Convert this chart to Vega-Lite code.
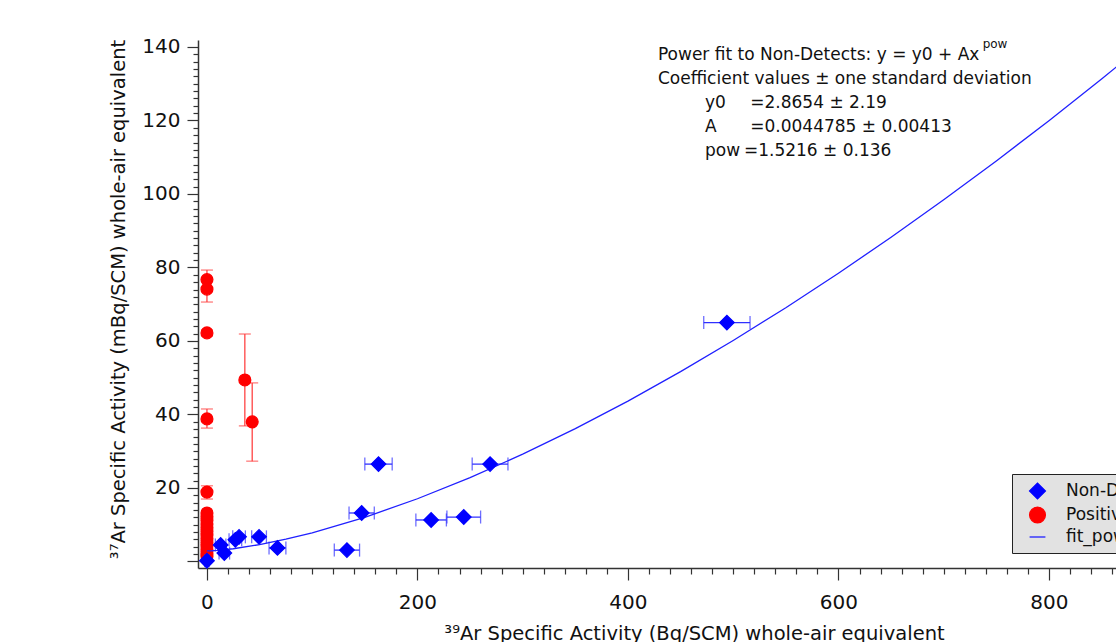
{
  "$schema": "https://vega.github.io/schema/vega-lite/v6.json",
  "width": 918,
  "height": 528,
  "autosize": {"type": "none"},
  "padding": {"left": 198, "top": 40, "right": 0, "bottom": 74},
  "background": "white",
  "config": {
    "font": "DejaVu Sans",
    "view": {"stroke": null},
    "axis": {
      "grid": false,
      "domainColor": "#333333",
      "domainWidth": 1.5,
      "tickColor": "#333333",
      "tickWidth": 1.2,
      "labelColor": "#111111",
      "labelFont": "DejaVu Sans",
      "labelFontSize": 20,
      "labelOverlap": false,
      "labelFlush": false,
      "titleFont": "DejaVu Sans",
      "titleFontSize": 19.5,
      "titleFontWeight": "normal",
      "titleColor": "#111111"
    },
    "legend": {
      "orient": "none",
      "legendX": 814,
      "legendY": 434,
      "title": null,
      "fillColor": "#e2e2e2",
      "strokeColor": "#222222",
      "padding": 8,
      "labelFont": "DejaVu Sans",
      "labelFontSize": 17,
      "labelColor": "#111111",
      "labelOffset": 19.5,
      "symbolOffset": 8.5,
      "rowPadding": 2,
      "symbolSize": 250,
      "symbolStrokeWidth": 1.3,
      "symbolOpacity": 1,
      "labelLimit": 400
    }
  },
  "datasets": {
    "nondetects": [
      {"x": 0, "y": 0.2, "xlo": -2, "xhi": 2, "series": "Non-Detects"},
      {"x": 13, "y": 4.5, "xlo": 8, "xhi": 18, "series": "Non-Detects"},
      {"x": 16.5, "y": 2.3, "xlo": 11.5, "xhi": 21.5, "series": "Non-Detects"},
      {"x": 27, "y": 5.9, "xlo": 21, "xhi": 33, "series": "Non-Detects"},
      {"x": 30.5, "y": 6.7, "xlo": 24.5, "xhi": 36.5, "series": "Non-Detects"},
      {"x": 49.5, "y": 6.7, "xlo": 42.5, "xhi": 56.5, "series": "Non-Detects"},
      {"x": 67, "y": 3.7, "xlo": 59, "xhi": 75, "series": "Non-Detects"},
      {"x": 133, "y": 3.1, "xlo": 121, "xhi": 145, "series": "Non-Detects"},
      {"x": 147, "y": 13.2, "xlo": 135, "xhi": 159, "series": "Non-Detects"},
      {"x": 163, "y": 26.5, "xlo": 150, "xhi": 176, "series": "Non-Detects"},
      {"x": 213, "y": 11.3, "xlo": 198.5, "xhi": 227.5, "series": "Non-Detects"},
      {"x": 244, "y": 12.1, "xlo": 228, "xhi": 260, "series": "Non-Detects"},
      {"x": 269, "y": 26.5, "xlo": 252, "xhi": 286, "series": "Non-Detects"},
      {"x": 494, "y": 65, "xlo": 472, "xhi": 516, "series": "Non-Detects"}
    ],
    "positives": [
      {"x": 0, "y": 76.7, "ylo": 74.5, "yhi": 79.3, "series": "Positives"},
      {"x": 0, "y": 74.1, "ylo": 70.6, "yhi": 77.2, "series": "Positives"},
      {"x": 0, "y": 62.2, "ylo": 61.4, "yhi": 63.0, "series": "Positives"},
      {"x": 36, "y": 49.4, "ylo": 36.9, "yhi": 61.9, "series": "Positives"},
      {"x": 43, "y": 38.0, "ylo": 27.3, "yhi": 48.6, "series": "Positives"},
      {"x": 0, "y": 38.8, "ylo": 36.3, "yhi": 41.5, "series": "Positives"},
      {"x": 0, "y": 18.9, "ylo": 17.0, "yhi": 20.6, "series": "Positives"},
      {"x": 0, "y": 13.2, "ylo": 12.6, "yhi": 13.8, "series": "Positives"},
      {"x": 0, "y": 12.2, "ylo": 11.6, "yhi": 12.8, "series": "Positives"},
      {"x": 0, "y": 11.2, "ylo": 10.6, "yhi": 11.8, "series": "Positives"},
      {"x": 0, "y": 10.2, "ylo": 9.6, "yhi": 10.8, "series": "Positives"},
      {"x": 0, "y": 9.2, "ylo": 8.6, "yhi": 9.8, "series": "Positives"},
      {"x": 0, "y": 8.2, "ylo": 7.6, "yhi": 8.8, "series": "Positives"},
      {"x": 0, "y": 7.2, "ylo": 6.6, "yhi": 7.8, "series": "Positives"},
      {"x": 0, "y": 6.2, "ylo": 5.6, "yhi": 6.8, "series": "Positives"},
      {"x": 0, "y": 5.2, "ylo": 4.6, "yhi": 5.8, "series": "Positives"},
      {"x": 0, "y": 4.2, "ylo": 3.6, "yhi": 4.8, "series": "Positives"},
      {"x": 0, "y": 3.2, "ylo": 2.6, "yhi": 3.8, "series": "Positives"},
      {"x": 0, "y": 2.2, "ylo": 1.6, "yhi": 2.8, "series": "Positives"},
      {"x": 0, "y": 1.4, "ylo": 0.8, "yhi": 2.0, "series": "Positives"}
    ],
    "fit": [
      {"x": 0, "y": 2.87, "series": "fit_pow_NonDetects"},
      {"x": 5, "y": 2.92, "series": "fit_pow_NonDetects"},
      {"x": 10, "y": 3.01, "series": "fit_pow_NonDetects"},
      {"x": 25, "y": 3.47, "series": "fit_pow_NonDetects"},
      {"x": 50, "y": 4.59, "series": "fit_pow_NonDetects"},
      {"x": 75, "y": 6.06, "series": "fit_pow_NonDetects"},
      {"x": 100, "y": 7.81, "series": "fit_pow_NonDetects"},
      {"x": 150, "y": 12.03, "series": "fit_pow_NonDetects"},
      {"x": 200, "y": 17.07, "series": "fit_pow_NonDetects"},
      {"x": 250, "y": 22.82, "series": "fit_pow_NonDetects"},
      {"x": 300, "y": 29.2, "series": "fit_pow_NonDetects"},
      {"x": 350, "y": 36.16, "series": "fit_pow_NonDetects"},
      {"x": 400, "y": 43.65, "series": "fit_pow_NonDetects"},
      {"x": 450, "y": 51.65, "series": "fit_pow_NonDetects"},
      {"x": 500, "y": 60.15, "series": "fit_pow_NonDetects"},
      {"x": 550, "y": 69.06, "series": "fit_pow_NonDetects"},
      {"x": 600, "y": 78.44, "series": "fit_pow_NonDetects"},
      {"x": 650, "y": 88.22, "series": "fit_pow_NonDetects"},
      {"x": 700, "y": 98.44, "series": "fit_pow_NonDetects"},
      {"x": 750, "y": 108.97, "series": "fit_pow_NonDetects"},
      {"x": 800, "y": 119.95, "series": "fit_pow_NonDetects"},
      {"x": 850, "y": 131.3, "series": "fit_pow_NonDetects"},
      {"x": 900, "y": 142.9, "series": "fit_pow_NonDetects"}
    ],
    "note": [{"label": "fit"}]
  },
  "encoding": {
    "x": {
      "type": "quantitative",
      "scale": {"domain": [-8.5, 863.7], "nice": false, "zero": false},
      "axis": {
        "title": "³⁹Ar Specific Activity (Bq/SCM) whole-air equivalent",
        "values": [0,20,40,60,80,100,120,140,160,180,200,220,240,260,280,300,320,340,360,380,400,420,440,460,480,500,520,540,560,580,600,620,640,660,680,700,720,740,760,780,800,820,840,860],
        "labelExpr": "datum.value % 200 === 0 ? datum.label : ''",
        "tickSize": {"condition": {"test": "datum.value % 200 === 0", "value": 12}, "value": 6},
        "labelPadding": 12,
        "titleX": 496,
        "titleY": 71,
        "titleAnchor": "middle",
        "titleAlign": "center",
        "titleBaseline": "alphabetic"
      }
    },
    "y": {
      "type": "quantitative",
      "scale": {"domain": [-1.77, 141.9], "nice": false, "zero": false},
      "axis": {
        "title": "³⁷Ar Specific Activity (mBq/SCM) whole-air equivalent",
        "values": [0,2,4,6,8,10,12,14,16,18,20,22,24,26,28,30,32,34,36,38,40,42,44,46,48,50,52,54,56,58,60,62,64,66,68,70,72,74,76,78,80,82,84,86,88,90,92,94,96,98,100,102,104,106,108,110,112,114,116,118,120,122,124,126,128,130,132,134,136,138,140],
        "labelExpr": "datum.value % 20 === 0 && datum.value > 0 ? datum.label : ''",
        "tickSize": {"condition": {"test": "datum.value % 20 === 0", "value": 11}, "value": 5},
        "labelPadding": 7,
        "titleX": -74,
        "titleY": 259,
        "titleAngle": -90,
        "titleAlign": "center",
        "titleBaseline": "alphabetic"
      }
    }
  },
  "layer": [
    {
      "data": {"name": "positives"},
      "mark": {"type": "rule", "color": "#ff4444", "strokeWidth": 1.3},
      "encoding": {"x": {"field": "x"}, "y": {"field": "ylo"}, "y2": {"field": "yhi"}}
    },
    {
      "data": {"name": "positives"},
      "mark": {"type": "tick", "orient": "horizontal", "color": "#ff4444", "thickness": 1.3, "size": 12},
      "encoding": {"x": {"field": "x"}, "y": {"field": "ylo"}}
    },
    {
      "data": {"name": "positives"},
      "mark": {"type": "tick", "orient": "horizontal", "color": "#ff4444", "thickness": 1.3, "size": 12},
      "encoding": {"x": {"field": "x"}, "y": {"field": "yhi"}}
    },
    {
      "data": {"name": "positives"},
      "mark": {"type": "point", "filled": true, "opacity": 1, "strokeWidth": 1.3, "size": 140},
      "encoding": {
        "x": {"field": "x"},
        "y": {"field": "y"},
        "fill": {
          "field": "series",
          "type": "nominal",
          "scale": {"domain": ["Non-Detects", "Positives", "fit_pow_NonDetects"], "range": ["#0000ff", "#ff0000", "transparent"]}
        },
        "stroke": {
          "field": "series",
          "type": "nominal",
          "scale": {"domain": ["Non-Detects", "Positives", "fit_pow_NonDetects"], "range": ["#0000ff", "#ff0000", "#2020ff"]}
        },
        "shape": {
          "field": "series",
          "type": "nominal",
          "scale": {"domain": ["Non-Detects", "Positives", "fit_pow_NonDetects"], "range": ["diamond", "circle", "stroke"]}
        }
      }
    },
    {
      "data": {"name": "nondetects"},
      "mark": {"type": "rule", "color": "#3030ff", "strokeWidth": 1.3},
      "encoding": {"x": {"field": "xlo"}, "x2": {"field": "xhi"}, "y": {"field": "y"}}
    },
    {
      "data": {"name": "nondetects"},
      "mark": {"type": "tick", "orient": "vertical", "color": "#3030ff", "thickness": 1.3, "size": 13},
      "encoding": {"x": {"field": "xlo"}, "y": {"field": "y"}}
    },
    {
      "data": {"name": "nondetects"},
      "mark": {"type": "tick", "orient": "vertical", "color": "#3030ff", "thickness": 1.3, "size": 13},
      "encoding": {"x": {"field": "xhi"}, "y": {"field": "y"}}
    },
    {
      "data": {"name": "fit"},
      "mark": {"type": "line", "strokeWidth": 1.3, "clip": true},
      "encoding": {
        "x": {"field": "x"},
        "y": {"field": "y"},
        "stroke": {"field": "series", "type": "nominal"}
      }
    },
    {
      "data": {"name": "nondetects"},
      "mark": {"type": "point", "filled": true, "opacity": 1, "strokeWidth": 1.3, "size": 210},
      "encoding": {
        "x": {"field": "x"},
        "y": {"field": "y"},
        "fill": {"field": "series", "type": "nominal"},
        "stroke": {"field": "series", "type": "nominal"},
        "shape": {"field": "series", "type": "nominal"}
      }
    },
    {
      "data": {"name": "note"},
      "mark": {"type": "text", "align": "left", "baseline": "alphabetic", "fontSize": 17, "lineHeight": 24, "color": "#111111"},
      "encoding": {
        "x": {"datum": 428.5},
        "y": {"datum": 136.46},
        "text": {"value": ["Power fit to Non-Detects: y = y0 + Ax", "Coefficient values ± one standard deviation"]}
      }
    },
    {
      "data": {"name": "note"},
      "mark": {"type": "text", "align": "left", "baseline": "alphabetic", "fontSize": 12, "color": "#111111"},
      "encoding": {
        "x": {"datum": 737},
        "y": {"datum": 139.7},
        "text": {"value": "pow"}
      }
    },
    {
      "data": {"name": "note"},
      "mark": {"type": "text", "align": "left", "baseline": "alphabetic", "fontSize": 17, "lineHeight": 24, "color": "#111111"},
      "encoding": {
        "x": {"datum": 473.2},
        "y": {"datum": 123.4},
        "text": {"value": ["y0", "A", "pow"]}
      }
    },
    {
      "data": {"name": "note"},
      "mark": {"type": "text", "align": "left", "baseline": "alphabetic", "fontSize": 17, "lineHeight": 24, "color": "#111111"},
      "encoding": {
        "x": {"datum": 516.2},
        "y": {"datum": 123.4},
        "text": {"value": ["=2.8654 ± 2.19", "=0.0044785 ± 0.00413"]}
      }
    },
    {
      "data": {"name": "note"},
      "mark": {"type": "text", "align": "left", "baseline": "alphabetic", "fontSize": 17, "color": "#111111"},
      "encoding": {
        "x": {"datum": 510.2},
        "y": {"datum": 110.4},
        "text": {"value": "=1.5216 ± 0.136"}
      }
    }
  ]
}
